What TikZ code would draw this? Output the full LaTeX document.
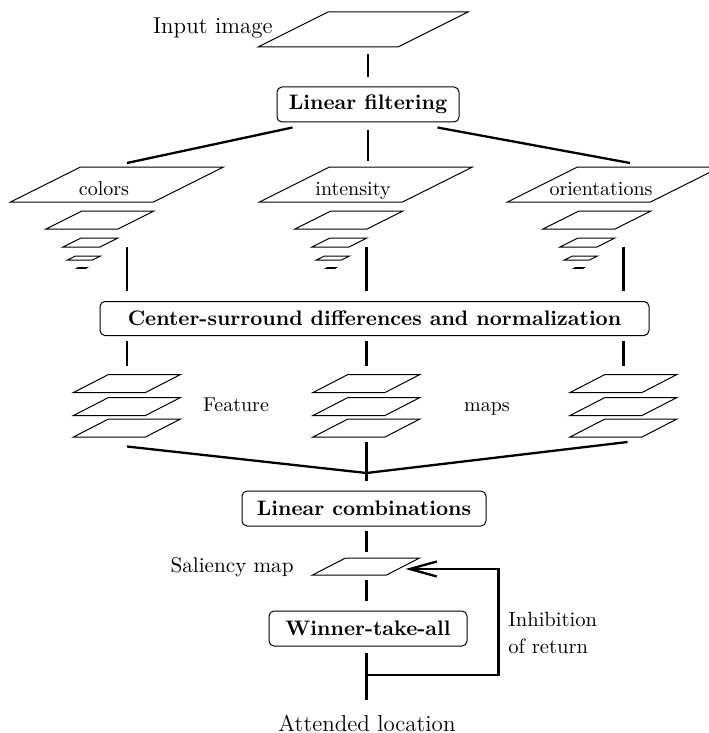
\documentclass[tikz,border=0pt]{standalone}
\usepackage{tikz}
\usetikzlibrary{arrows.meta,positioning,calc}

% a flat image plane: name, centre, width, skew, height (picture units)
\newcommand{\mapsheet}[5]{%
  \node[sheet, minimum width={(#3+#4)*0.5pt}, minimum height={(#5)*0.5pt}] (#1) at (#2) {};
  \draw[sheetline] (#1.south west) -- ++(#3,0) -- (#1.north east) -- ++(-#3,0) -- cycle;
}

\begin{document}
\begin{tikzpicture}[
    x=0.5pt, y=-0.5pt,
    box/.style={draw, rounded corners=2.5pt, line width=0.5pt, minimum height=17.5pt, inner sep=0pt, font=\fontsize{10.5}{12}\selectfont\bfseries},
    sheet/.style={inner sep=0pt, outer sep=0pt},
    sheetline/.style={line width=0.5pt},
    lbl/.style={inner sep=2pt, font=\fontsize{10}{12}\selectfont},
    biglbl/.style={inner sep=2pt, font=\fontsize{11.5}{13}\selectfont},
    link/.style={line width=1.15pt, shorten <=2.5pt, shorten >=4.5pt},
    diag/.style={line width=1.15pt},
    back/.style={line width=1.15pt, -{Straight Barb[length=13.5pt,width=7.5pt]}}
  ]
    \useasboundingbox (0,0) rectangle (708,733);

    % input and first stage
    \mapsheet{input}{363,29.5}{140}{70}{35}
    \node[biglbl, anchor=base east] (inLbl) at (277,33.5) {Input image};
    \node[box, minimum width=91pt] (filter) at (368,104.5) {Linear filtering};

    % colour, intensity and orientation pyramids
    \foreach \m/\cx/\txt in {col/117/colors, int/366/intensity, ori/614/orientations} {
      \mapsheet{\m1}{\cx,184.5}{143}{70}{35}
      \node[lbl, anchor=base] (\m L) at (\cx-13,195) {\txt};
      \mapsheet{\m2}{\cx-17,220}{72}{36}{18}
      \mapsheet{\m3}{\cx-26.5,242.5}{37}{18}{9}
      \mapsheet{\m4}{\cx-33,258}{25}{8}{4}
      \mapsheet{\m5}{\cx-35,268}{9}{1}{0.6}
    }

    \node[box, minimum width=274.5pt, minimum height=17pt] (cs) at (374.5,318.5) {Center-surround differences and normalization};

    % feature maps
    \foreach \m/\fx in {col/127, int/366.5, ori/623.5} {
      \foreach \k/\fy in {A/383.5, B/406.5, C/428} {
        \mapsheet{f\m\k}{\fx,\fy}{72}{35}{18}
      }
    }
    \node[lbl, anchor=base] (featLbl) at (236,411) {Feature};
    \node[lbl, anchor=base] (mapsLbl) at (487,411) {maps};

    \coordinate (merge) at (366.5,473);
    \node[box, minimum width=122pt] (lin) at (364,508.5) {Linear combinations};

    \mapsheet{sal}{366,566.5}{74}{33}{17}
    \node[lbl, anchor=base east, font=\fontsize{10.6}{12}\selectfont] (salLbl) at (298,572) {Saliency map};

    \node[box, minimum width=99pt] (wta) at (368,628.5) {Winner-take-all};
    \node[biglbl, anchor=base] (att) at (367,731) {Attended location};
    \node[lbl, align=left, anchor=west, font=\fontsize{10.3}{13.3}\selectfont] (inhib) at (504,633) {Inhibition\\of return};

    % connections
    \draw[link, shorten <=3.5pt] (filter.north |- input.south) -- (filter.north);
    \draw[link, shorten <=4pt, shorten >=3pt] (filter.south) -- (int1.north -| filter.south);
    \draw[diag] ([xshift=8pt,yshift=-2.5pt]filter.south west) -- ([xshift=5pt,yshift=2pt]col1.north);
    \draw[diag] ([xshift=-11pt,yshift=-2.5pt]filter.south east) -- ([xshift=8pt,yshift=2pt]ori1.north);
    \foreach \m in {col,int,ori} {
      \draw[link, shorten <=0pt, shorten >=5pt] (\m3.south -| f\m A) -- (cs.north -| f\m A);
      \draw[link] (cs.south -| f\m A) -- (f\m A.north);
    }
    \draw[diag] ([yshift=-4.75pt]fcolC.south) -- (merge);
    \draw[diag] ([xshift=2pt,yshift=-2.5pt]foriC.south) -- (merge);
    \draw[link, shorten >=4.75pt] (fintC.south) -- (lin.north -| fintC.south);
    \draw[link, shorten <=2pt, shorten >=3pt] (lin.south -| fintC.south) -- (sal.north -| fintC.south);
    \draw[link, shorten >=5pt] (sal.south -| fintC.south) -- (wta.north -| fintC.south);
    \draw[link, shorten <=3pt, shorten >=5pt] (wta.south -| fintC.south) -- (att.north -| fintC.south);

    % inhibition of return
    \coordinate (fb) at ($(wta.south -| fintC.south)!0.45!(att.north -| fintC.south)$);
    \draw[back] (fb) -- ++(132,0) |- ([xshift=-7pt,yshift=-1.25pt]sal.east);
  \end{tikzpicture}
\end{document}
